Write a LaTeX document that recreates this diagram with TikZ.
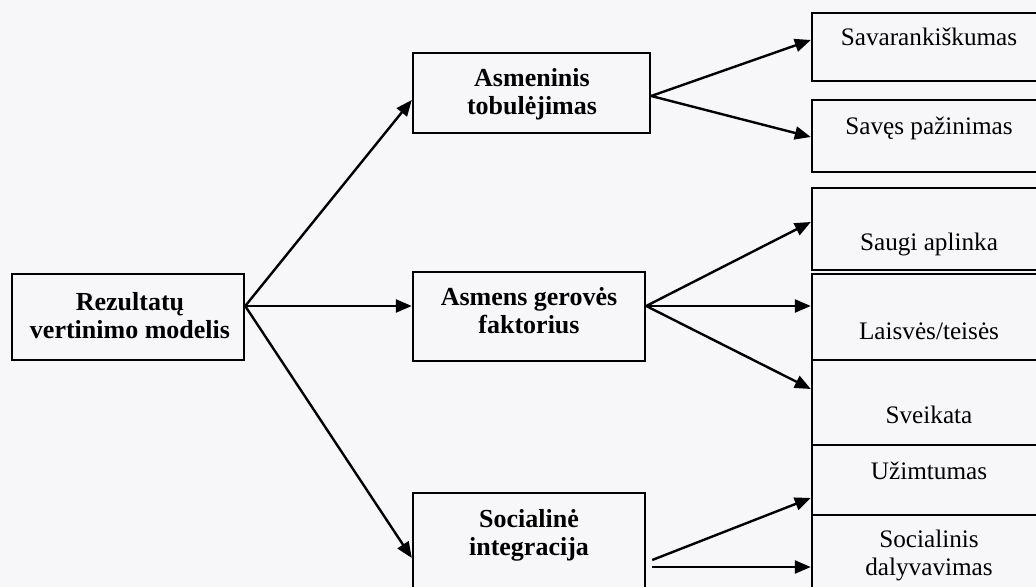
\documentclass[tikz,border=0pt]{standalone}
\usepackage{fontspec}
\setmainfont{Liberation Serif}
\usetikzlibrary{arrows.meta}
\definecolor{bgc}{RGB}{247,247,249}
\begin{document}
\begin{tikzpicture}[x=0.5pt,y=-0.5pt,
  box/.style={draw=black, line width=1.2pt, inner sep=0pt, minimum width=116pt},
  rbox/.style={draw=black, line width=1.2pt, inner sep=0pt, minimum width=119pt},
  btxt/.style={inner sep=0pt, align=center, font=\fontsize{13}{13.9}\selectfont\bfseries},
  rtxt/.style={inner sep=0pt, align=center, font=\fontsize{12.6}{14}\selectfont},
  arr/.style={line width=1.2pt, -{Triangle[length=8pt,width=6.5pt]}}]
\useasboundingbox (0,0) rectangle (1036,587);
\clip (0,0) rectangle (1036,587);
\fill[bgc] (0,0) rectangle (1036,587);
% left box
\node[box, minimum height=43pt] (L) at (128,317) {};
\node[btxt] (tL) at (130,316) {Rezultatų\\vertinimo modelis};
% middle boxes
\node[box, minimum width=118.5pt, minimum height=40pt] (A1) at (531.5,93) {};
\node[btxt] (tA1) at (532,94) {Asmeninis\\tobulėjimas};
\node[box, minimum height=44.5pt] (A2) at (529,316.5) {};
\node[btxt] (tA2) at (529,310.5) {Asmens gerovės\\faktorius};
\node[box, minimum height=63.5pt] (A3) at (529,556.5) {};
\node[btxt] (tA3) at (529,535.5) {Socialinė\\integracija};
% right boxes
\node[rbox, minimum height=34pt] (R1) at (931,47) {};
\node[rbox, minimum height=36pt] (R2) at (931,136) {};
\node[rbox, minimum height=41pt] (R3) at (931,229) {};
\node[rbox, minimum height=43pt] (R4) at (931,317) {};
\node[rbox, minimum height=42.5pt] (R5) at (931,402.5) {};
\node[rbox, minimum height=35pt] (R6) at (931,480) {};
\node[rbox, minimum height=62.5pt] (R7) at (931,577.5) {};
\node[rtxt, anchor=base] (tR1) at (929,46) {Savarankiškumas};
\node[rtxt, anchor=base] (tR2) at (929,135) {Savęs pažinimas};
\node[rtxt, anchor=base] (tR3) at (929,250) {Saugi aplinka};
\node[rtxt, anchor=base] (tR4) at (929,339) {Laisvės/teisės};
\node[rtxt, anchor=base] (tR5) at (929,423) {Sveikata};
\node[rtxt, anchor=base] (tR6) at (929,479) {Užimtumas};
\node[rtxt] (tR7) at (929,555) {Socialinis\\dalyvavimas};
% connectors
\draw[arr] ([yshift=5.5pt]L.east) -- ([yshift=-3.5pt]A1.west);
\draw[arr] ([yshift=5.5pt]L.east) -- ([yshift=5.25pt]A2.west);
\draw[arr] ([yshift=5.5pt]L.east) -- ([yshift=-0.75pt]A3.west);
\draw[arr] ([yshift=-1.5pt]A1.east) -- ([yshift=3.5pt]R1.west);
\draw[arr] ([yshift=-1.5pt]A1.east) -- ([yshift=-0.5pt]R2.west);
\draw[arr] ([yshift=5.25pt]A2.east) -- ([yshift=3.5pt]R3.west);
\draw[arr] ([yshift=5.25pt]A2.east) -- ([yshift=5.5pt]R4.west);
\draw[arr] ([yshift=5.25pt]A2.east) -- ([yshift=6.75pt]R5.west);
\draw[arr] ([shift={(3pt,-1.75pt)}]A3.east) -- ([yshift=-9pt]R6.west);
\draw[arr] ([shift={(3pt,-5.25pt)}]A3.east) -- ([yshift=5.25pt]R7.west);
\end{tikzpicture}
\end{document}
